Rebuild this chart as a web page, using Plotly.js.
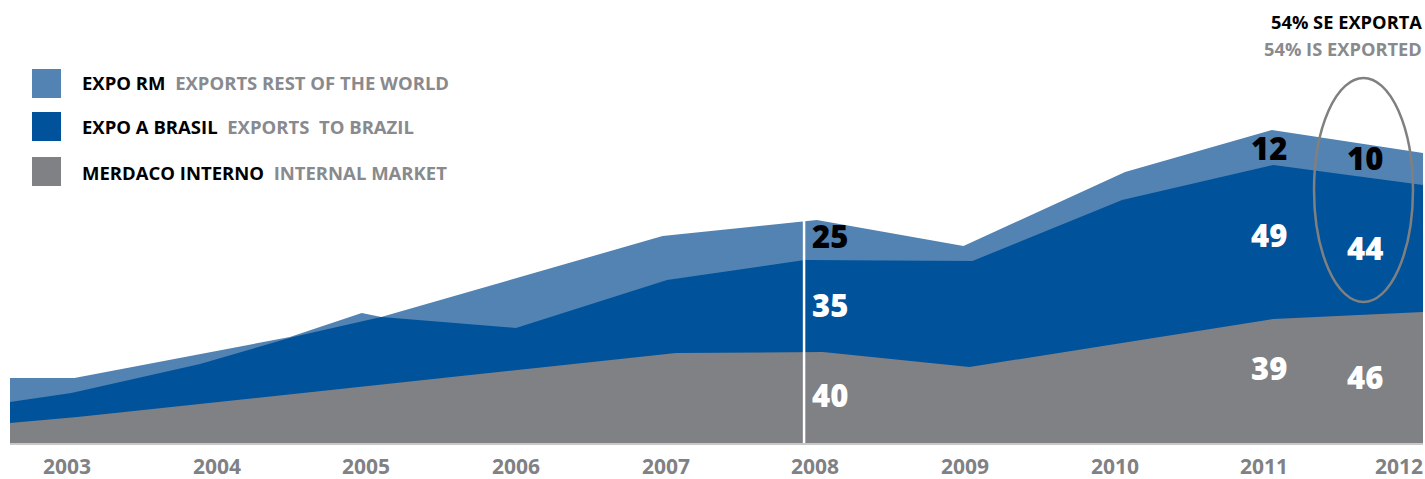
<!DOCTYPE html>
<html>
<head>
<meta charset="utf-8">
<script src="https://cdn.plot.ly/plotly-3.0.1.min.js"></script>
<style>
  html, body { margin: 0; padding: 0; background: #ffffff; }
  #chart { width: 1425px; height: 479px; }
</style>
</head>
<body>
<div id="chart"></div>
<script>
// ---------- DATA (volume units, arbitrary scale) ----------
// Exports to rest of the world (top of the stack = total volume)
const restX = [2002.62, 2003.05, 2004.49, 2004.97, 2005.10, 2006.98, 2008.01, 2008.99, 2010.07, 2011.05, 2012.06];
const restY = [65, 65, 106, 130, 126, 207, 223, 197, 271, 313, 290];
// Exports to Brazil (top of internal + Brazil)
const brazilX = [2002.62, 2003.03, 2003.89, 2004.51, 2005.10, 2006.00, 2007.01, 2007.93, 2009.05, 2010.05, 2011.06, 2012.06];
const brazilY = [41, 50, 79, 106, 126, 115, 163, 183, 182, 243, 278, 258];
// Internal market
const internalX = [2002.62, 2003.07, 2006.01, 2007.07, 2008.05, 2009.03, 2011.06, 2012.06];
const internalY = [20, 26, 73, 90, 91, 76, 124, 131];

// Tick labels
const years = [2003, 2004, 2005, 2006, 2007, 2008, 2009, 2010, 2011, 2012];

// Share labels (%)
const shareYears    = [2008, 2011, 2012];
const shareRest     = [25, 12, 10];
const shareBrazil   = [35, 49, 44];
const shareInternal = [40, 39, 46];

// ---------- STYLE ----------
const C_LIGHT = '#5283B2';
const C_DARK  = '#00529B';
const C_GRAY  = '#808185';
const C_TEXTGRAY = '#898a8e';
const FONT = 'Open Sans, Noto Sans, sans-serif';

// pixel -> paper helpers for layout decorations (plot area: x 10..1423, y 0..443)
const W = 1425, H = 479, ML = 10, MR = 2, MT = 0, MB = 36;
const PW = W - ML - MR, PH = H - MT - MB;
const pxX = p => (p - ML) / PW;
const pxY = p => (H - MB - p) / PH;

const traces = [
  { x: restX, y: restY, name: 'EXPO RM', type: 'scatter', mode: 'lines',
    fill: 'tozeroy', fillcolor: C_LIGHT, line: { width: 0, color: C_LIGHT }, hoverinfo: 'skip' },
  { x: brazilX, y: brazilY, name: 'EXPO A BRASIL', type: 'scatter', mode: 'lines',
    fill: 'tozeroy', fillcolor: C_DARK, line: { width: 0, color: C_DARK }, hoverinfo: 'skip' },
  { x: internalX, y: internalY, name: 'MERDACO INTERNO', type: 'scatter', mode: 'lines',
    fill: 'tozeroy', fillcolor: C_GRAY, line: { width: 0, color: C_GRAY }, hoverinfo: 'skip' }
];

// share label placement (data coords) per year index
const labelX = { 2008: 2008.10, 2011: 2011.03, 2012: 2011.67 };
const labelYRest = [207, 295, 285];
const labelYBrazil = [138, 208, 195];
const labelYInternal = [48, 75, 66];

const annotations = [];
const valFont = c => ({ family: FONT, size: 31, weight: 800, color: c });
shareYears.forEach((yr, i) => {
  annotations.push({ x: labelX[yr], y: labelYRest[i], xref: 'x', yref: 'y', text: String(shareRest[i]),
    showarrow: false, font: valFont('#000000') });
  annotations.push({ x: labelX[yr], y: labelYBrazil[i], xref: 'x', yref: 'y', text: String(shareBrazil[i]),
    showarrow: false, font: valFont('#ffffff') });
  annotations.push({ x: labelX[yr], y: labelYInternal[i], xref: 'x', yref: 'y', text: String(shareInternal[i]),
    showarrow: false, font: valFont('#ffffff') });
});

// year labels along the x axis (last one pinned to the right edge so it is not clipped)
const tickFont = { family: FONT, size: 21, weight: 700, color: C_GRAY };
years.forEach((yr, i) => {
  if (i < years.length - 1) {
    annotations.push({ x: yr, xref: 'x', y: pxY(466), yref: 'paper', yanchor: 'middle', xanchor: 'center',
      showarrow: false, text: String(yr), font: tickFont });
  } else {
    annotations.push({ x: pxX(1425), xref: 'paper', y: pxY(466), yref: 'paper', yanchor: 'middle', xanchor: 'right',
      showarrow: false, text: String(yr), font: tickFont });
  }
});

// legend (custom)
const legendRows = [
  { a: 'EXPO RM', b: 'EXPORTS REST OF THE WORLD', color: C_LIGHT, top: 69, cy: 82 },
  { a: 'EXPO A BRASIL', b: 'EXPORTS  TO BRAZIL', color: C_DARK, top: 112, cy: 127 },
  { a: 'MERDACO INTERNO', b: 'INTERNAL MARKET', color: C_GRAY, top: 157, cy: 172 }
];
const shapes = [];
legendRows.forEach(r => {
  shapes.push({ type: 'rect', xref: 'paper', yref: 'paper', x0: pxX(32), x1: pxX(61),
    y0: pxY(r.top + 29), y1: pxY(r.top), fillcolor: r.color, line: { width: 0 } });
  annotations.push({ xref: 'paper', yref: 'paper', x: pxX(80), y: pxY(r.cy), xanchor: 'left', yanchor: 'middle',
    showarrow: false, text: r.a + '&nbsp;&nbsp;<span style="color:' + C_TEXTGRAY + '">' + r.b + '</span>',
    font: { family: FONT, size: 18.5, weight: 700, color: '#000000' } });
});

// 2008 separator line
shapes.push({ type: 'line', xref: 'x', yref: 'y', x0: 2007.925, x1: 2007.925, y0: 0, y1: 222,
  line: { color: '#ffffff', width: 2.5 } });
// ellipse around 2012 exports
shapes.push({ type: 'circle', xref: 'x', yref: 'y', x0: 2011.332, x1: 2011.993, y0: 141, y1: 365,
  line: { color: '#808080', width: 2.5 } });

// top-right note
annotations.push({ xref: 'paper', yref: 'paper', x: pxX(1424), y: pxY(21.5), xanchor: 'right', yanchor: 'middle',
  showarrow: false, text: '54% SE EXPORTA', font: { family: FONT, size: 18.3, weight: 700, color: '#000000' } });
annotations.push({ xref: 'paper', yref: 'paper', x: pxX(1424), y: pxY(48), xanchor: 'right', yanchor: 'middle',
  showarrow: false, text: '54% IS EXPORTED', font: { family: FONT, size: 18.3, weight: 700, color: C_TEXTGRAY } });

const layout = {
  width: W, height: H,
  margin: { l: ML, r: MR, t: MT, b: MB, pad: 0 },
  paper_bgcolor: '#ffffff', plot_bgcolor: '#ffffff',
  showlegend: false,
  xaxis: {
    range: [2002.62, 2012.06], showgrid: false, zeroline: false,
    showline: true, linecolor: '#c8c8c8', linewidth: 1.5,
    showticklabels: false, ticks: ''
  },
  yaxis: { range: [0, 443], showgrid: false, zeroline: false, showline: false, showticklabels: false, ticks: '' },
  shapes: shapes,
  annotations: annotations
};

Plotly.newPlot('chart', traces, layout, { displayModeBar: false, staticPlot: true });
</script>
</body>
</html>
